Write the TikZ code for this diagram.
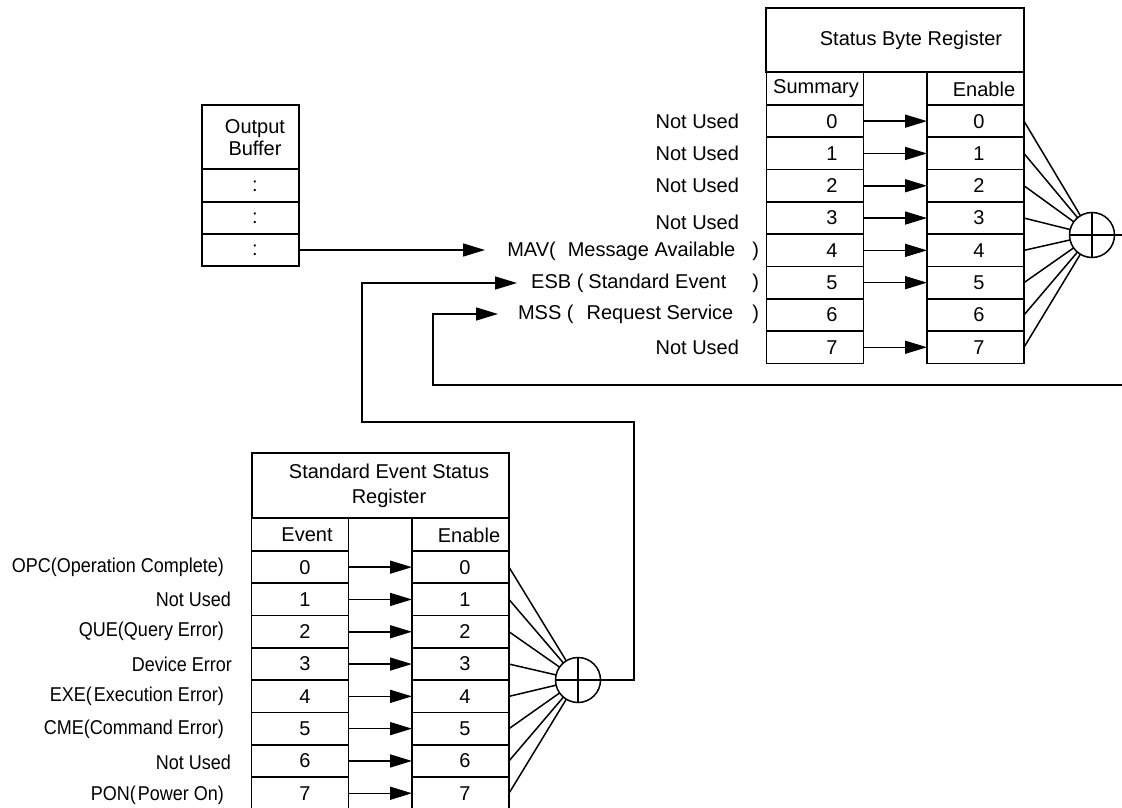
\documentclass[tikz,border=0pt]{standalone}
\usepackage{fontspec}
\setmainfont{Liberation Sans}
\newfontfamily\narrowfont[FakeStretch=0.9]{Liberation Sans}
\usetikzlibrary{arrows.meta}
\begin{document}
\begin{tikzpicture}[x=1pt,y=-1pt,
  every node/.style={inner sep=0pt, outer sep=0pt, font=\fontsize{20}{22}\selectfont},
  cell/.style={draw, line width=1.7pt, minimum width=97pt, minimum height=32.3pt},
  hcell/.style={draw, line width=1.7pt, minimum width=97pt, minimum height=33pt},
  headbox/.style={draw, line width=1.7pt, minimum width=258pt, minimum height=64.5pt},
  wire/.style={line width=1.5pt},
  arr/.style={wire, -{Triangle[length=22pt,width=13pt]}},
  sumnode/.style={circle, draw, line width=1.5pt, minimum size=45pt,
    path picture={\draw[line width=1.5pt] (path picture bounding box.north) -- (path picture bounding box.south)
      (path picture bounding box.west) -- (path picture bounding box.east);}},
  lbl/.style={anchor=east},
  nlbl/.style={anchor=east, font=\narrowfont\fontsize{20}{22}\selectfont},
  txt/.style={align=center},
]
\useasboundingbox (0,0) rectangle (1122,808);
\clip (0,0) rectangle (1122,808);

% ---------------- Output buffer ----------------
\node[draw, line width=1.7pt, minimum width=97pt, minimum height=64pt] (obhead) at (250.5,137) {};
\node[txt, font=\fontsize{20}{22}\selectfont] (obtitle) at (255,138) {Output\\Buffer};
\node[cell] (ob0) at (250.5,185.5) {};
\node[cell] (ob1) at (250.5,218) {};
\node[cell] (ob2) at (250.5,250) {};
\node (obt0) at (255,186) {:};
\node (obt1) at (255,218) {:};
\node (obt2) at (255,250) {:};

% ---------------- Status Byte Register ----------------
\node[headbox] (sbhead) at (895,40) {};
\node (sbtitle) at (911,40) {Status Byte Register};
\node[hcell] (sbSh) at (815,88.5) {};
\node (sbSht) at (816,89) {Summary};
\node[hcell] (sbEh) at (975.5,88.5) {};
\node (sbEht) at (984,89) {Enable};
\foreach \i in {0,...,7}{
  \pgfmathsetmacro\yy{121.15+32.3*\i}
  \node[cell] (sbS\i) at (815,\yy) {};
  \node[cell] (sbE\i) at (975.5,\yy) {};
  \node (sbSt\i) at (832,\yy) {\i};
  \node (sbEt\i) at (979,\yy) {\i};
}
\node[sumnode] (sbsum) at (1092,235) {};
\foreach \i in {0,1,2,3,4,5,7}{
  \draw[arr] (sbS\i.east) -- (sbE\i.west);
}
\foreach \i in {0,...,7}{
  \draw[wire] (sbE\i.east) -- (sbsum);
}
\coordinate (sbout) at (1122,235);
\draw[wire] (sbsum.east) -- (sbout);

% labels of the status byte
\node[lbl] (sbl0) at (739,121) {Not Used};
\node[lbl] (sbl1) at (739,153) {Not Used};
\node[lbl] (sbl2) at (739,185) {Not Used};
\node[lbl] (sbl3) at (739,222) {Not Used};
\node[lbl] (sbl4) at (759,251) {MAV(\hspace{12pt}Message Available\hspace{17pt})};
\node[lbl] (sbl5) at (759,283) {ESB (\hspace{5pt}Standard Event\hspace{26pt})};
\node[lbl] (sbl6) at (759,314) {MSS (\hspace{13pt}Request Service\hspace{19pt})};
\node[lbl] (sbl7) at (739,347) {Not Used};

% MAV connector
\coordinate (mavtip) at (485,250);
\draw[arr] (ob2.east) -- (mavtip);

% ---------------- Standard Event Status Register ----------------
\node[headbox, minimum width=257pt, minimum height=65pt] (sehead) at (380.5,485.5) {};
\node[txt, font=\fontsize{20}{25}\selectfont] (setitle) at (389,486) {Standard Event Status\\Register};
\node[hcell] (seSh) at (300,534.5) {};
\node (seSht) at (307,535) {Event};
\node[hcell] (seEh) at (460.5,534.5) {};
\node (seEht) at (469,535) {Enable};
\foreach \i in {0,...,7}{
  \pgfmathsetmacro\yy{567.15+32.3*\i}
  \node[cell] (seS\i) at (300,\yy) {};
  \node[cell] (seE\i) at (460.5,\yy) {};
  \node (seSt\i) at (305,\yy) {\i};
  \node (seEt\i) at (465,\yy) {\i};
}
\node[sumnode] (sesum) at (578,680) {};
\foreach \i in {0,...,7}{
  \draw[arr] (seS\i.east) -- (seE\i.west);
  \draw[wire] (seE\i.east) -- (sesum);
}

% labels of the standard event register
\node[nlbl] (sel0) at (224,567) {OPC(Operation Complete)};
\node[nlbl] (sel1) at (231,599) {Not Used};
\node[nlbl] (sel2) at (224,631) {QUE(Query Error)};
\node[nlbl] (sel3) at (232,664) {Device Error};
\node[nlbl] (sel4) at (224,696) {EXE(\hspace{2pt}Execution Error)};
\node[nlbl] (sel5) at (224,729) {CME(Command Error)};
\node[nlbl] (sel6) at (231,762) {Not Used};
\node[nlbl] (sel7) at (224,795) {PON(\hspace{2pt}Power On)};

% ESB feedback
\coordinate (esbc1) at (634,422);
\coordinate (esbc2) at (362,422);
\coordinate (esbtip) at (517,283);
\draw[arr] (sesum.east) -| (esbc1) -- (esbc2) |- (esbtip);

% MSS feedback
\coordinate (mssin) at (1122,385);
\coordinate (mssc) at (433,385);
\coordinate (msstip) at (498,314);
\draw[arr] (mssin) -- (mssc) |- (msstip);
\end{tikzpicture}
\end{document}
